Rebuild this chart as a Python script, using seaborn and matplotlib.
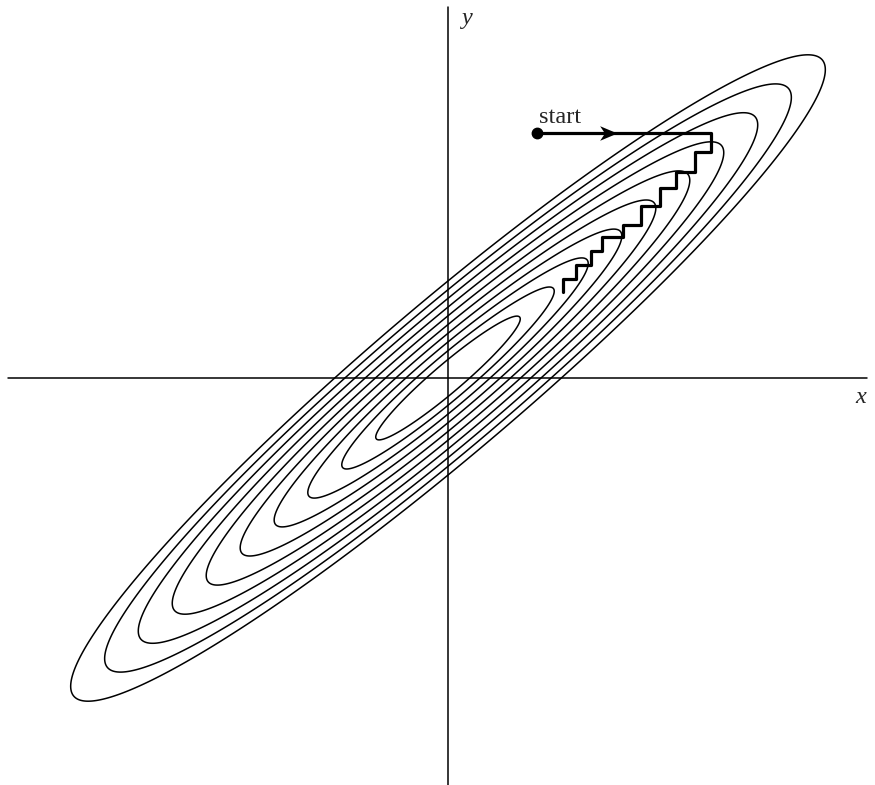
import numpy as np
import pandas as pd
import matplotlib
matplotlib.use("Agg")
import matplotlib.pyplot as plt
from matplotlib.path import Path
import seaborn as sns

# quadratic bowl f(x, y) = A x^2 - 2 B x y + C y^2, fitted to the ellipse extents
A, B, C = 1.0, 1.1136, 1.363
# where each drawn ellipse crosses the positive x axis
crossings = [0.217, 0.319, 0.421, 0.522, 0.624, 0.726, 0.828, 0.930, 1.031, 1.133]

# coordinate-descent staircase
start_x = 0.89
step_x = [2.63, 2.467, 2.28, 2.12, 1.932, 1.753, 1.537, 1.433, 1.278, 1.15]
step_y = [2.448, 2.26, 2.058, 1.90, 1.717, 1.535, 1.41, 1.267, 1.13, 0.988, 0.863]
arrow_x = 1.69

sns.set_theme(style="white")
plt.rcParams['font.family'] = ['Liberation Serif', 'DejaVu Serif']

fig = plt.figure(figsize=(8.75, 7.85), dpi=100)
ax = fig.add_axes([0, 0, 1, 1])
ax.set_xlim(-4.48, 4.27)
ax.set_ylim(-4.07, 3.78)
ax.set_axis_off()

# coordinate axes
ax.axhline(0, xmin=8 / 875, xmax=867 / 875, color='black', lw=1.1)
ax.axvline(0, ymin=0, ymax=1 - 7 / 785, color='black', lw=1.1)

# level sets
gx, gy = np.meshgrid(np.linspace(-4.5, 4.3, 900), np.linspace(-4.1, 3.8, 900))
f = A * gx ** 2 - 2 * B * gx * gy + C * gy ** 2
levels = [A * c ** 2 for c in crossings]
ax.contour(gx, gy, f, levels=levels, colors='black', linewidths=1.1)

# staircase path
px, py = [start_x], [step_y[0]]
for i, xv in enumerate(step_x):
    px += [xv, xv]
    py += [step_y[i], step_y[i + 1]]
path = pd.DataFrame({'x': px, 'y': py})
sns.lineplot(data=path, x='x', y='y', sort=False, estimator=None,
             color='black', lw=2.3, ax=ax)

ax.plot(start_x, step_y[0], 'o', color='black', ms=7.5)
head = Path([(0, 0), (-1, 0.42), (-0.72, 0), (-1, -0.42), (0, 0)],
            [Path.MOVETO, Path.LINETO, Path.LINETO, Path.LINETO, Path.CLOSEPOLY])
ax.plot(arrow_x, step_y[0], marker=head, color='black', ms=25, mew=0)

ax.text(start_x + 0.02, step_y[0] + 0.1, 'start', fontsize=17.5, ha='left', va='baseline')
ax.text(0.13, 3.54, 'y', fontsize=17.5, style='italic', ha='left', va='baseline')
ax.text(4.07, -0.25, 'x', fontsize=17.5, style='italic', ha='left', va='baseline')

fig.savefig('out.png', dpi=100)
